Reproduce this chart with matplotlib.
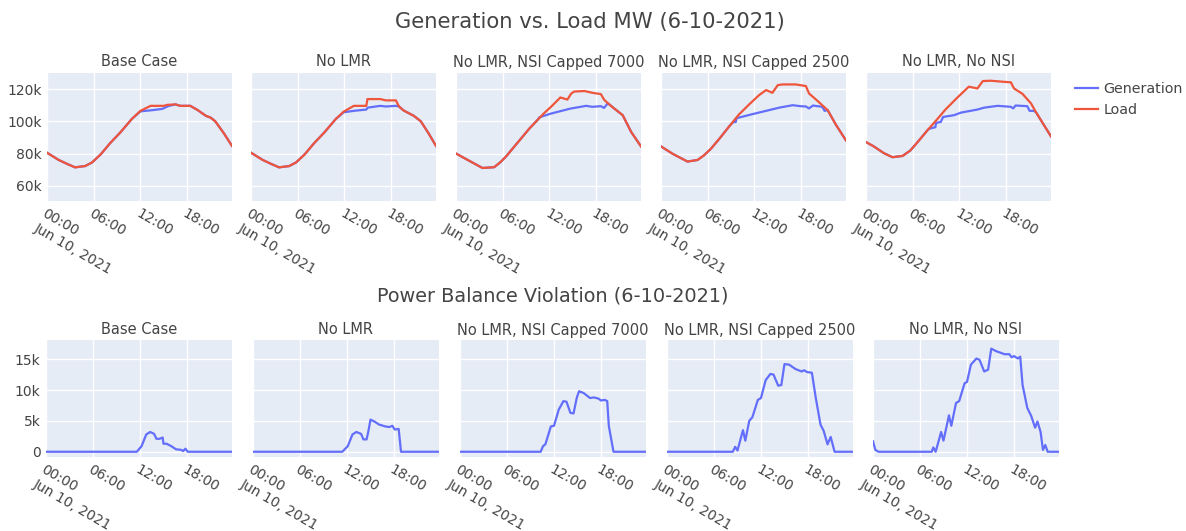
import pandas as pd
import matplotlib
matplotlib.use('Agg')
import matplotlib.pyplot as plt
from matplotlib.ticker import FuncFormatter

DAY = pd.Timestamp('2021-06-10')
CASES = ['Base Case', 'No LMR', 'No LMR, NSI Capped 7000',
         'No LMR, NSI Capped 2500', 'No LMR, No NSI']
TICK_HOURS = [0, 6, 12, 18]
TICK_LABELS = ['00:00\nJun 10, 2021', '06:00', '12:00', '18:00']

# generation / load, thousand MW (hour of day, value)
base_load_h = [0, 1.5, 2.6, 3.6, 4.9, 5.8, 6.9, 8.1, 9.4, 10.9, 12, 13.3, 15, 15.4, 16.5, 17.1, 18.4, 19.3, 20.4, 21, 21.6, 22.7, 23.75]
base_load = [80.5, 76, 73.5, 71.4, 72.2, 74.5, 79.5, 86.4, 93, 101.5, 106.5, 109.6, 109.6, 110.2, 110.5, 109.6, 109.6, 107.1, 103.4, 102.3, 100, 92.6, 84.7]
base_gen_h = [0, 1.5, 2.6, 3.6, 4.9, 5.8, 6.9, 8.1, 9.4, 10.9, 12, 13.3, 14.8, 15.6, 16.5, 17.1, 18.4, 19.3, 20.4, 21, 21.6, 22.7, 23.75]
base_gen = [80.5, 76, 73.5, 71.4, 72.2, 74.5, 79.5, 86.4, 93, 101.5, 106.2, 106.8, 107.7, 109.5, 110.5, 109.6, 109.6, 107.1, 103.4, 102.3, 100, 92.6, 84.7]

nolmr_load_h = [0, 1.5, 2.6, 3.6, 4.9, 5.8, 6.9, 8.1, 9.4, 10.9, 11.9, 13.2, 14.8, 14.95, 16.6, 17.3, 18.6, 19.0, 19.6, 20.9, 21.8, 22.8, 23.75]
nolmr_load = [80.5, 76, 73.5, 71.4, 72.2, 74.5, 79.5, 86.4, 93, 101.5, 106, 109.6, 109.6, 113.8, 113.8, 113, 113, 109.2, 106.7, 103.4, 100, 92.5, 84.7]
nolmr_gen_h = [0, 1.5, 2.6, 3.6, 4.9, 5.8, 6.9, 8.1, 9.4, 10.9, 11.9, 13.2, 14.8, 15.0, 16.6, 17.3, 18.6, 19.0, 19.6, 20.9, 21.8, 22.8, 23.75]
nolmr_gen = [80.5, 76, 73.5, 71.4, 72.2, 74.5, 79.5, 86.4, 93, 101.5, 105.6, 106.5, 107.3, 108.5, 109.6, 109.2, 109.6, 109.2, 106.7, 103.4, 100, 92.5, 84.7]

nsi7000_load_h = [0, 1.5, 3.4, 4.9, 5.7, 6.4, 7.5, 8.3, 9.4, 10.5, 11.3, 12.2, 13.4, 14.3, 14.8, 15.2, 16.5, 17.5, 18.6, 19.0, 19.5, 20.3, 21.4, 22.5, 23.75]
nsi7000_load = [80, 76, 71, 71.5, 74.6, 78, 84.4, 89, 95.4, 101, 105, 109, 114.8, 113.5, 117.3, 118.5, 118.8, 117.7, 116.9, 113.5, 111.2, 108, 103.8, 93.3, 84.4]
nsi7000_gen_h = [0, 1.5, 3.4, 4.9, 5.7, 6.4, 7.5, 8.3, 9.4, 10.5, 10.7, 12.2, 13.4, 14.7, 16.7, 17.5, 18.6, 19.0, 19.5, 20.3, 21.4, 22.5, 23.75]
nsi7000_gen = [80, 76, 71, 71.5, 74.6, 78, 84.4, 89, 95.4, 101, 102.5, 104.8, 106.3, 107.9, 109.6, 109, 109.4, 108.3, 111.2, 108, 103.8, 93.3, 84.4]

nsi2500_load_h = [0, 1.5, 3.4, 4.7, 5.5, 6.4, 7.5, 8.7, 10.0, 11.3, 12.6, 13.5, 14.3, 15.0, 15.6, 17.3, 18.6, 19.0, 19.9, 20.7, 21.4, 22.5, 23.75]
nsi2500_load = [84.4, 79.8, 75, 76, 78.8, 82.9, 89.2, 96.5, 104.2, 110.4, 116.3, 119.4, 117.7, 122.5, 122.9, 122.9, 121.9, 117.3, 113.5, 110, 106.9, 97.5, 88.1]
nsi2500_gen_h = [0, 1.5, 3.4, 4.7, 5.5, 6.4, 7.5, 8.7, 9.2, 9.6, 9.7, 10.0, 11.7, 13.5, 15.2, 16.9, 17.9, 18.6, 19.0, 19.5, 20.7, 21.0, 21.4, 22.5, 23.75]
nsi2500_gen = [84.4, 79.8, 75, 76, 78.8, 82.9, 89.2, 96.5, 99.3, 99.6, 102.0, 102.3, 104.4, 106.5, 108.5, 110, 109.4, 109.2, 108, 109.8, 109, 106.5, 106.9, 97.5, 88.1]

nonsi_load_h = [0, 1.0, 2.3, 3.4, 4.7, 5.7, 6.8, 7.9, 9.0, 10.2, 11.7, 13.2, 14.3, 15.0, 16.0, 17.5, 18.6, 19.0, 20.1, 21.2, 21.8, 23.75]
nonsi_load = [87.1, 84.4, 80.2, 77.7, 78.5, 81.9, 88.1, 94.5, 100.5, 107.3, 114.6, 121.5, 120.4, 125, 125.2, 124.6, 124.2, 120.4, 117, 111, 105.8, 90.6]
nonsi_gen_h = [0, 1.0, 2.3, 3.4, 4.7, 5.7, 6.8, 7.9, 8.1, 8.6, 8.9, 9.0, 9.6, 9.9, 11.3, 12.2, 14.3, 15.2, 16.9, 18.6, 18.9, 19.2, 20.7, 21.0, 21.5, 21.8, 23.75]
nonsi_gen = [87.1, 84.4, 80.2, 77.7, 78.5, 81.9, 88.1, 94.5, 95.3, 96, 96.3, 99, 99.6, 102.7, 103.8, 105.4, 107.3, 108.5, 109.6, 109, 108, 109.8, 109.4, 106.5, 106.5, 105.8, 90.6]

# power balance violation, thousand MW
base_viol_h = [0, 11.6, 12.2, 12.8, 13.3, 13.8, 14.1, 14.5, 14.9, 15.0, 15.4, 16.0, 16.6, 17.3, 17.5, 17.8, 18.1, 23.75]
base_viol = [0, 0, 0.9, 2.8, 3.2, 2.9, 2.1, 2.1, 2.3, 1.3, 1.3, 0.9, 0.4, 0.3, 0.1, 0.5, 0, 0]
nolmr_viol_h = [0, 11.4, 12.1, 12.7, 13.2, 13.8, 14.1, 14.5, 14.7, 15.0, 15.5, 16.1, 16.9, 17.4, 17.8, 18.1, 18.6, 18.9, 23.75]
nolmr_viol = [0, 0, 0.9, 2.8, 3.2, 2.9, 2.0, 2.0, 3.1, 5.2, 4.9, 4.4, 4.1, 4.0, 4.2, 3.6, 3.7, 0, 0]
nsi7000_viol_h = [0, 10.3, 10.6, 10.9, 11.6, 12.0, 12.6, 13.2, 13.6, 14.1, 14.5, 14.9, 15.2, 15.8, 16.6, 17.1, 17.7, 18.0, 18.5, 18.8, 19.0, 19.6, 23.75]
nsi7000_viol = [0, 0, 0.9, 1.2, 4.1, 4.2, 6.8, 8.2, 8.1, 6.3, 6.2, 8.7, 9.8, 9.5, 8.7, 8.8, 8.6, 8.3, 8.4, 8.2, 4.2, 0, 0]
nsi2500_viol_h = [0, 8.4, 8.7, 9.0, 9.7, 10.0, 10.5, 10.9, 11.6, 12.0, 12.6, 13.2, 13.6, 14.2, 14.6, 15.0, 15.6, 16.4, 17.2, 17.5, 17.9, 18.5, 19.0, 19.6, 20.0, 20.5, 20.9, 21.4, 23.75]
nsi2500_viol = [0, 0, 0.8, 0.2, 3.5, 1.8, 5.0, 5.6, 8.4, 8.7, 11.6, 12.6, 12.5, 10.7, 10.8, 14.2, 14.1, 13.4, 13.0, 13.2, 12.9, 12.8, 8.7, 4.4, 3.4, 1.2, 2.4, 0, 0]
nonsi_viol_h = [0, 0.3, 0.7, 7.5, 7.7, 8.0, 8.7, 9.0, 9.7, 10.0, 10.6, 11.0, 11.7, 12.0, 12.5, 13.2, 13.6, 14.2, 14.7, 15.1, 15.7, 16.8, 17.4, 17.7, 18.0, 18.5, 18.8, 19.1, 19.7, 20.2, 20.7, 21.0, 21.4, 21.7, 22.0, 22.3, 23.75]
nonsi_viol = [1.7, 0.3, 0, 0, 0.7, 0, 3.2, 1.8, 5.9, 4.2, 7.9, 8.2, 11.1, 11.3, 14.1, 15.1, 14.9, 13.0, 13.3, 16.7, 16.3, 15.8, 15.8, 15.3, 15.5, 15.1, 15.4, 10.8, 7.1, 5.8, 3.9, 4.9, 3.2, 0.3, 1.1, 0, 0]

GEN_LOAD = [
    (base_gen_h, base_gen, base_load_h, base_load),
    (nolmr_gen_h, nolmr_gen, nolmr_load_h, nolmr_load),
    (nsi7000_gen_h, nsi7000_gen, nsi7000_load_h, nsi7000_load),
    (nsi2500_gen_h, nsi2500_gen, nsi2500_load_h, nsi2500_load),
    (nonsi_gen_h, nonsi_gen, nonsi_load_h, nonsi_load),
]
VIOLATION = [
    (base_viol_h, base_viol),
    (nolmr_viol_h, nolmr_viol),
    (nsi7000_viol_h, nsi7000_viol),
    (nsi2500_viol_h, nsi2500_viol),
    (nonsi_viol_h, nonsi_viol),
]

BLUE = '#636efa'
RED = '#ef553b'
TEXT = '#444444'
W, H = 1186, 531


def to_time(hours):
    return (DAY + pd.to_timedelta(hours, unit='h')).to_pydatetime()


def k_fmt(v, pos):
    return '0' if v == 0 else f'{v:g}k'


def px_axes(fig, left, top, width, height):
    return fig.add_axes([left / W, 1 - (top + height) / H, width / W, height / H])


def style(ax, ylim, yticks, show_y):
    ax.set_facecolor('#E5ECF6')
    for s in ax.spines.values():
        s.set_visible(False)
    ax.set_axisbelow(True)
    ax.grid(color='white', linewidth=1)
    ax.set_xlim(to_time([0, 23.75]))
    ax.set_xticks(to_time(TICK_HOURS))
    ax.set_xticklabels(TICK_LABELS)
    ax.set_ylim(ylim)
    ax.set_yticks(yticks)
    ax.yaxis.set_major_formatter(FuncFormatter(k_fmt))
    ax.tick_params(length=0, labelsize=10, labelcolor=TEXT, pad=4)
    if not show_y:
        ax.tick_params(labelleft=False)
    for lab in ax.get_xticklabels():
        lab.set_rotation(-30)
        lab.set_ha('left')
        lab.set_va('top')
        lab.set_rotation_mode('anchor')
        lab.set_linespacing(1.25)


fig = plt.figure(figsize=(W / 100, H / 100), dpi=100)

top_lefts = [47, 251, 456, 661, 866]
for i, (gh, g, lh, l) in enumerate(GEN_LOAD):
    ax = px_axes(fig, top_lefts[i], 73, 185, 128)
    ax.plot(to_time(gh), g, color=BLUE, lw=1.6, label='Generation')
    ax.plot(to_time(lh), l, color=RED, lw=1.6, label='Load')
    style(ax, (50.5, 130), [60, 80, 100, 120], i == 0)
    fig.text((top_lefts[i] + 92.5) / W, 1 - 62 / H, CASES[i], ha='center', va='center',
             fontsize=10.5, color=TEXT)
    if i == 0:
        handles, labels = ax.get_legend_handles_labels()

bot_lefts = [46, 253, 460, 667, 873]
for i, (vh, v) in enumerate(VIOLATION):
    ax = px_axes(fig, bot_lefts[i], 340, 186, 117)
    ax.plot(to_time(vh), v, color=BLUE, lw=1.6)
    style(ax, (-0.85, 18.1), [0, 5, 10, 15], i == 0)
    fig.text((bot_lefts[i] + 93) / W, 1 - 330 / H, CASES[i], ha='center', va='center',
             fontsize=10.5, color=TEXT)

fig.text(590 / W, 1 - 22 / H, 'Generation vs. Load MW (6-10-2021)', ha='center', va='center',
         fontsize=15.2, color=TEXT)
fig.text(553 / W, 1 - 296 / H, 'Power Balance Violation (6-10-2021)', ha='center', va='center',
         fontsize=13.9, color=TEXT)

fig.legend(handles, labels, loc='upper left', bbox_to_anchor=(1069 / W, 1 - 76 / H),
           frameon=False, fontsize=10.3, labelcolor=TEXT, handlelength=1.6,
           handletextpad=0.4, labelspacing=0.5, borderaxespad=0)

fig.savefig('out.png', dpi=100)
